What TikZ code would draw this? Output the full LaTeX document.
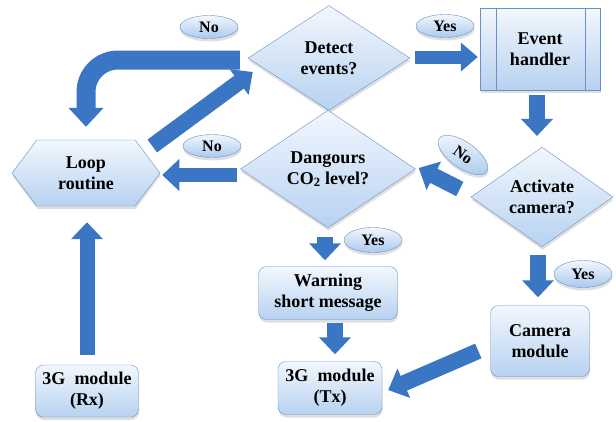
\documentclass[tikz,border=0pt]{standalone}
\usepackage{fontspec}
\setmainfont{Liberation Serif}
\usetikzlibrary{arrows.meta,positioning,calc,shapes.geometric,shapes.symbols,shadows}

\definecolor{flowblue}{RGB}{58,118,196}
\definecolor{boxedge}{RGB}{105,145,195}
\definecolor{boxtop}{RGB}{242,247,254}
\definecolor{boxbot}{RGB}{183,210,240}

\tikzset{
  base/.style={draw=boxedge, thin, top color=boxtop, bottom color=boxbot,
    align=center, inner sep=0pt, font=\bfseries\fontsize{18}{21}\selectfont,
    drop shadow={opacity=0.25, shadow xshift=0.5pt, shadow yshift=-3pt}},
  decision/.style={base, diamond},
  process/.style={base, rectangle, rounded corners=8pt},
  handlerbox/.style={base, rectangle},
  loopbox/.style={base, signal, signal to=west and east, signal pointer angle=106},
  answer/.style={base, ellipse, minimum width=58pt, minimum height=23pt,
    bottom color=boxbot!90!flowblue, font=\bfseries\fontsize{16}{18}\selectfont},
  blockarrow/.style={flowblue, line width=16pt, -{Triangle[width=31pt,length=17pt]}},
}

\begin{document}
\begin{tikzpicture}[x=1pt,y=-1pt]
\useasboundingbox (0,0) rectangle (616,421);

% decisions
\node[decision, minimum width=162pt, minimum height=105pt] (detect) at (329,58) {Detect\\events?};
\node[decision, minimum width=175pt, minimum height=101pt] (co2) at (328,169) {Dangours\\CO\textsubscript{2} level?};
\node[decision, minimum width=142pt, minimum height=97pt] (activate) at (542,197) {Activate\\camera?};

% process boxes
\node[handlerbox, minimum width=120pt, minimum height=82pt] (handler) at (540,49) {Event\\handler};
\draw[boxedge] ([xshift=16pt]handler.north west) -- ([xshift=16pt]handler.south west);
\draw[boxedge] ([xshift=-15pt]handler.north east) -- ([xshift=-15pt]handler.south east);
\node[loopbox, minimum width=148pt, minimum height=66pt] (loop) at (86,173) {Loop\\routine};
\node[process, minimum width=139pt, minimum height=53pt] (warning) at (328,293) {Warning\\short message};
\node[process, minimum width=99pt, minimum height=71pt] (camera) at (540,341) {Camera\\module};
\node[process, minimum width=104pt, minimum height=53pt] (txmod) at (330,388) {3G~ module\\(Tx)};
\node[process, minimum width=103pt, minimum height=52pt] (rxmod) at (87,391) {3G~ module\\(Rx)};

% answers
\node[answer] (no1) at (209,27) {No};
\node[answer] (no2) at (212,146) {No};
\node[answer] (yes1) at (445,26) {Yes};
\node[answer, rotate=-35, minimum width=58pt, minimum height=26pt] (no3) at (463,155) {No};
\node[answer, minimum height=25pt] (yes2) at (373,240) {Yes};
\node[answer, minimum height=27pt] (yes3) at (583,274) {Yes};

% flow arrows
\draw[blockarrow, line width=19pt, rounded corners=32pt, -{Triangle[width=34pt,length=19pt]}]
  ($(detect.west)+(-8,2)$) -| ($(loop.north)+(0,-13)$);
\draw[blockarrow] ($(loop.east)+(-8,-27)$) -- ($(detect.west)+(5,14)$);
\draw[blockarrow, line width=14pt] ($(co2.west)+(-3,6)$) -- ($(loop.east)+(2,2)$);
\draw[blockarrow, line width=13pt, -{Triangle[width=28pt,length=17pt]}]
  ($(detect.east)+(5,-1)$) -- ($(handler.west)+(-2,8)$);
\draw[blockarrow] ($(handler.south)+(-3,5)$) -- ($(activate.north)+(-5,-11)$);
\draw[blockarrow] ($(activate.west)+(-11,-8)$) -- ($(co2.east)+(3,-1)$);
\draw[blockarrow] ($(co2.south)+(-3,9)$) -- ($(warning.north)+(-3,-6)$);
\draw[blockarrow] ($(activate.south)+(-4,8)$) -- ($(camera.north)+(-2,-8)$);
\draw[blockarrow] ($(warning.south)+(7,3)$) -- ($(txmod.north)+(5,-7)$);
\draw[blockarrow] ($(camera.west)+(-12,10)$) -- ($(txmod.east)+(6,2)$);
\draw[blockarrow, line width=15pt] ($(rxmod.north)+(0,-10)$) -- ($(loop.south)+(1,16)$);
\end{tikzpicture}
\end{document}
